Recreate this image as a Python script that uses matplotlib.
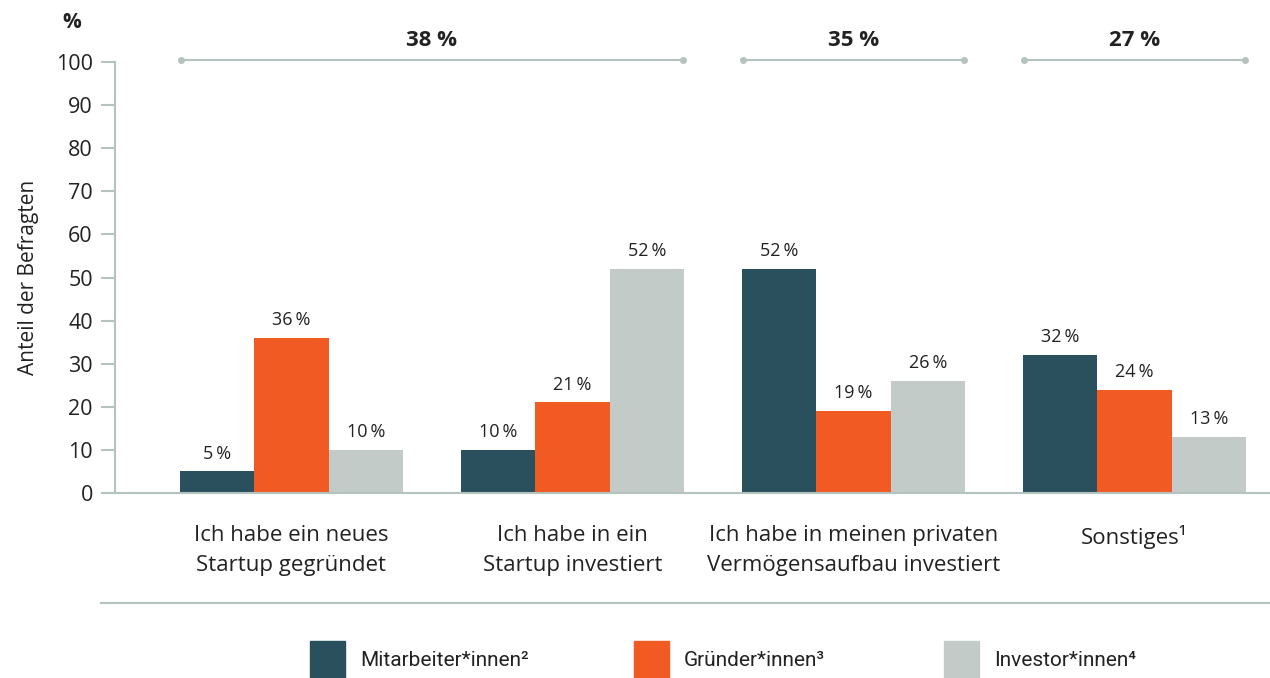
import numpy as np
import matplotlib.pyplot as plt
from matplotlib.lines import Line2D
from matplotlib.patches import Rectangle

categories = [
    "Ich habe ein neues\nStartup gegründet",
    "Ich habe in ein\nStartup investiert",
    "Ich habe in meinen privaten\nVermögensaufbau investiert",
    "Sonstiges¹",
]
series_names = ["Mitarbeiter*innen²", "Gründer*innen³", "Investor*innen⁴"]
mitarbeiter = [5, 10, 52, 32]
gruender = [36, 21, 19, 24]
investoren = [10, 52, 26, 13]
totals = ["38 %", "35 %", "27 %"]
total_spans = [(0, 1), (2, 2), (3, 3)]
yticks = list(range(0, 101, 10))

colors = ["#2a4f5d", "#f15a22", "#c3cbc8"]
line_col = "#b4c3bf"
text_col = "#222222"

plt.rcParams["font.family"] = ["Open Sans", "DejaVu Sans"]

W, H = 1270, 678
fig = plt.figure(figsize=(12.7, 6.78), dpi=100)
ax = fig.add_axes([115 / W, 185 / H, 1 - 115 / W, 431 / H])

x = np.arange(len(categories))
w = 0.265
for i, vals in enumerate([mitarbeiter, gruender, investoren]):
    pos = x + (i - 1) * w
    ax.bar(pos, vals, width=w, color=colors[i], zorder=2)
    for p, v in zip(pos, vals):
        ax.text(p, v + 4.1, f"{v}\u2009%", ha="center", va="center",
                fontsize=13, color=text_col)

ax.set_xlim(-0.628, 3.482)
ax.set_ylim(0, 100)
ax.set_yticks(yticks)
ax.tick_params(axis="y", length=10, width=1.5, color=line_col,
               labelsize=15.5, labelcolor=text_col, pad=6)
ax.set_xticks(x)
ax.set_xticklabels(categories, fontsize=16, color=text_col, linespacing=1.55)
ax.tick_params(axis="x", length=0, pad=23)
for s in ["top", "right"]:
    ax.spines[s].set_visible(False)
for s in ["left", "bottom"]:
    ax.spines[s].set_color(line_col)
    ax.spines[s].set_linewidth(1.5)

ax.set_ylabel("Anteil der Befragten", fontsize=15, color=text_col, labelpad=12)
fig.text(72 / W, 1 - 22 / H, "%", fontsize=15, fontweight="bold",
         color=text_col, ha="center", va="center")

# brackets with totals
for (a, b), t in zip(total_spans, totals):
    x0 = a - 1.5 * w + 0.003
    x1 = b + 1.5 * w - 0.003
    ax.plot([x0, x1], [100.5, 100.5], color=line_col, lw=1.5,
            marker="o", markersize=4, clip_on=False)
    ax.text((x0 + x1) / 2, 105.0, t, ha="center", va="center",
            fontsize=16, fontweight="bold", color=text_col, clip_on=False)

# separator line under categories
fig.add_artist(Line2D([101 / W, 1.0], [1 - 603 / H, 1 - 603 / H],
                      color=line_col, lw=1.5))

# legend drawn by hand
leg_x = [310, 634, 944]
for lx, c, name in zip(leg_x, colors, series_names):
    fig.add_artist(Rectangle((lx / W, 0), 35 / W, 37 / H, color=c,
                             transform=fig.transFigure))
    fig.text((lx + 50) / W, 1 - 660 / H, name, fontsize=15, family="Roboto",
             color=text_col, ha="left", va="center")

fig.savefig("out.png", dpi=100)
